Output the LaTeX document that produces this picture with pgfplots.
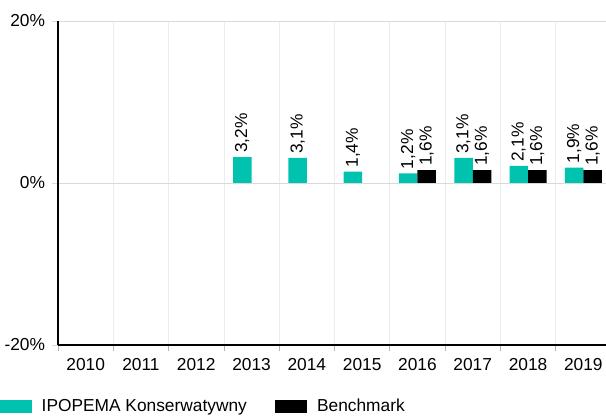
\documentclass[border=0pt]{standalone}
\usepackage{fontspec}
\setmainfont{Liberation Sans}
\usepackage{pgfplots}
\pgfplotsset{compat=1.18}
\definecolor{teal1}{RGB}{0,195,175}
\newcommand\chartfont{\fontsize{17.4}{21}\selectfont}
\begin{document}
\chartfont
\begin{tikzpicture}
\begin{axis}[
  at={(58bp,71bp)}, anchor=south west,
  scale only axis, width=553bp, height=324bp,
  ybar=0pt, bar width=18.5bp,
  xmin=-0.5, xmax=9.5, ymin=-20, ymax=20,
  xtick={0,...,9},
  xticklabels={2010,2011,2012,2013,2014,2015,2016,2017,2018,2019},
  minor xtick={-0.5,0.5,...,9.5},
  xminorgrids,
  minor x grid style={color=gray!15, line width=0.8bp},
  major x tick style={draw=none},
  minor x tick style={color=gray!60, line width=0.8bp},
  minor tick length=6bp,
  major tick length=6bp,
  tick align=outside,
  ytick={-20,0,20},
  yticklabels={-20\%,0\%,20\%},
  ymajorgrids,
  major y grid style={color=gray!30, line width=0.8bp},
  major y tick style={color=gray!30, line width=0.8bp},
  axis x line*=bottom, axis y line*=left,
  axis line style={black, line width=1.2bp},
  tick label style={font=\chartfont},
  xticklabel style={yshift=-1bp},
  yticklabel style={xshift=-1bp},
  /pgf/number format/assume math mode=true,
  nodes near coords={\pgfmathprintnumber[fixed,fixed zerofill,precision=1,use comma]{\pgfplotspointmeta}\%},
  every node near coord/.append style={rotate=90, anchor=west, inner xsep=4bp, inner ysep=0pt, font=\chartfont, black},
  legend image code/.code={\fill[#1] (0bp,-6.2bp) rectangle (32bp,7.1bp);},
  legend columns=2,
  legend style={at={(axis description cs:-0.1049,-0.167)}, anchor=north west,
    draw=none, fill=none, inner sep=0pt, outer sep=0pt,
    font=\chartfont,
    nodes={inner sep=0pt},
    /tikz/every odd column/.append style={column sep=9.7bp},
    /tikz/every even column/.append style={column sep=28.5bp}},
]
\addplot[fill=teal1, draw=none] coordinates {(3,3.2) (4,3.1) (5,1.4) (6,1.2) (7,3.1) (8,2.1) (9,1.9)};
\addlegendentry{IPOPEMA Konserwatywny}
\addplot[fill=black, draw=none] coordinates {(6,1.6) (7,1.6) (8,1.6) (9,1.6)};
\addlegendentry{Benchmark}
\end{axis}
\pgfresetboundingbox
\path (0,0) rectangle (606bp,416bp);
\end{tikzpicture}
\end{document}
